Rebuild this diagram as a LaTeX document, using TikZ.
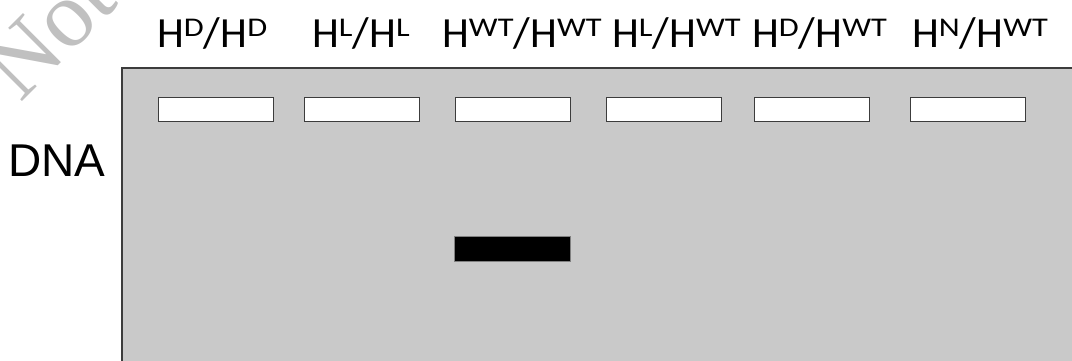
\documentclass[tikz,border=0pt]{standalone}
\usepackage{fontspec}
\setmainfont{Carlito}
\newfontfamily\dnafont{Liberation Sans}
\newfontfamily\markfont{Liberation Serif}
\usepackage{graphicx}
\definecolor{gelgray}{RGB}{201,201,201}
\definecolor{edgegray}{RGB}{60,60,60}
\definecolor{markgray}{RGB}{192,192,192}
% allele superscript: small, slightly widened, raised
\newcommand\allele[1]{\raisebox{11pt}{\scalebox{1.2}[1]{\fontsize{27}{27}\selectfont #1}}}
\begin{document}
\begin{tikzpicture}[x=1pt,y=-1pt,
  lanelabel/.style={anchor=base west,inner sep=0pt,font=\fontsize{43}{43}\selectfont},
  well/.style={draw=edgegray,line width=1pt,fill=white},
  band/.style={draw=gray,line width=1pt,fill=black}]
\useasboundingbox (0,0) rectangle (1072,360);
% faint diagonal stamp in the corner
\node[anchor=base west,inner sep=0pt,rotate=45,text=markgray,
  font=\markfont\fontsize{94}{94}\selectfont] (stamp) at (20,104) {Not};
% gel body
\draw[fill=gelgray,draw=edgegray,line width=1.3pt] (122,68) rectangle (1085,375);
% loading wells
\node[well,minimum width=115pt,minimum height=24pt,inner sep=0pt] (w1) at (215.5,109) {};
\node[well,minimum width=115pt,minimum height=24pt,inner sep=0pt] (w2) at (361.5,109) {};
\node[well,minimum width=115pt,minimum height=24pt,inner sep=0pt] (w3) at (512.5,109) {};
\node[well,minimum width=115pt,minimum height=24pt,inner sep=0pt] (w4) at (664,109) {};
\node[well,minimum width=115pt,minimum height=24pt,inner sep=0pt] (w5) at (811.5,109) {};
\node[well,minimum width=115pt,minimum height=24pt,inner sep=0pt] (w6) at (968,109) {};
% the single band
\node[band,minimum width=116pt,minimum height=25pt,inner sep=0pt] (b3) at (512.5,248.5) {};
% lane labels
\node[lanelabel] (l1) at (157,47) {H\allele{D}/H\allele{D}};
\node[lanelabel] (l2) at (312,47) {H\allele{L}/H\allele{L}};
\node[lanelabel] (l3) at (442,47) {H\allele{WT}/H\allele{WT}};
\node[lanelabel] (l4) at (612,47) {H\allele{L}/H\allele{WT}};
\node[lanelabel] (l5) at (752,47) {H\allele{D}/H\allele{WT}};
\node[lanelabel] (l6) at (912,47) {H\allele{N}/H\allele{WT}};
% side label
\node[anchor=base west,inner sep=0pt,font=\dnafont\fontsize{46}{46}\selectfont] (dna) at (8,176) {DNA};
\end{tikzpicture}
\end{document}
